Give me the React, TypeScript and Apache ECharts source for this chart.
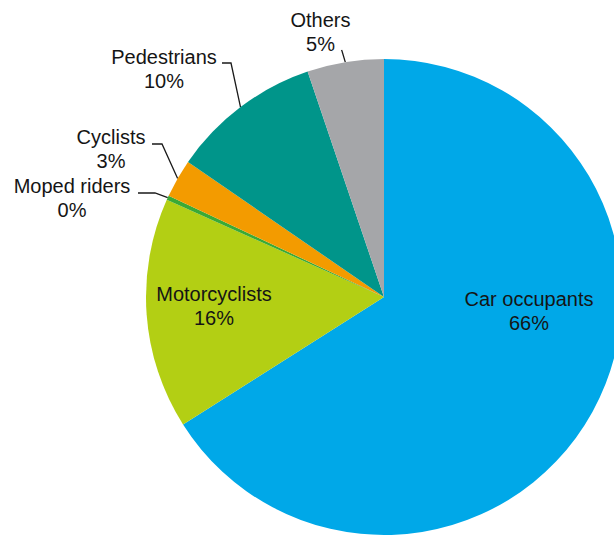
import React, { useEffect, useRef } from "react";
import * as echarts from "echarts";

const categories = ["Car occupants", "Motorcyclists", "Moped riders", "Cyclists", "Pedestrians", "Others"];
const shares = [66.0, 15.7, 0.3, 2.6, 10.2, 5.2];
const colors = ["#00A8E8", "#B3CF14", "#3AAA35", "#F39B00", "#00958A", "#A5A6A9"];
const insideLabel = [true, true, false, false, false, false];

// label block centres (px) and leader-line bend/end points
const labelPos: [number, number][] = [
  [529, 311],
  [214, 306],
  [72, 198],
  [111, 149],
  [164, 69],
  [320.5, 32],
];
const leaderBend: ([number, number] | null)[] = [null, null, [155, 193], [162, 144], [231, 63], [342, 51]];
const leaderEnd: ([number, number] | null)[] = [null, null, [138, 193], [152, 144], [222, 63], [341.5, 50]];

export default function App() {
  const ref = useRef<HTMLDivElement>(null);
  useEffect(() => {
    if (!ref.current) return;
    const chart = echarts.init(ref.current, undefined, { renderer: "svg" });
    const total = shares.reduce((a, b) => a + b, 0);
    chart.setOption({
      animation: false,
      backgroundColor: "#ffffff",
      series: [
        {
          type: "pie",
          center: [384, 297],
          radius: 238,
          startAngle: 90,
          clockwise: true,
          avoidLabelOverlap: false,
          minShowLabelAngle: 0,
          itemStyle: { borderWidth: 0 },
          label: {
            fontFamily: "Liberation Sans, Arial, sans-serif",
            fontSize: 20,
            lineHeight: 23.5,
            color: "#151515",
            align: "center",
            formatter: (p: any) => `${p.name}\n${Math.round((p.value / total) * 100)}%`,
          },
          labelLine: {
            lineStyle: { color: "#1a1a1a", width: 1.3 },
            smooth: false,
          },
          labelLayout: (params: any) => {
            const i = params.dataIndex;
            const res: any = {
              x: labelPos[i][0],
              y: labelPos[i][1],
              align: "center",
              verticalAlign: "middle",
            };
            if (!insideLabel[i] && params.labelLinePoints && leaderBend[i]) {
              const start = params.labelLinePoints[0];
              res.labelLinePoints = [start, leaderBend[i], leaderEnd[i]];
            }
            return res;
          },
          data: categories.map((name, i) => ({
            name,
            value: shares[i],
            itemStyle: { color: colors[i] },
            label: { position: insideLabel[i] ? "inside" : "outside" },
            labelLine: { show: !insideLabel[i], length: 10, length2: 10 },
          })),
        },
      ],
    });
    return () => chart.dispose();
  }, []);
  return (
    <div
      ref={ref}
      style={{ position: "absolute", left: 0, top: 0, width: 614, height: 536 }}
    />
  );
}
